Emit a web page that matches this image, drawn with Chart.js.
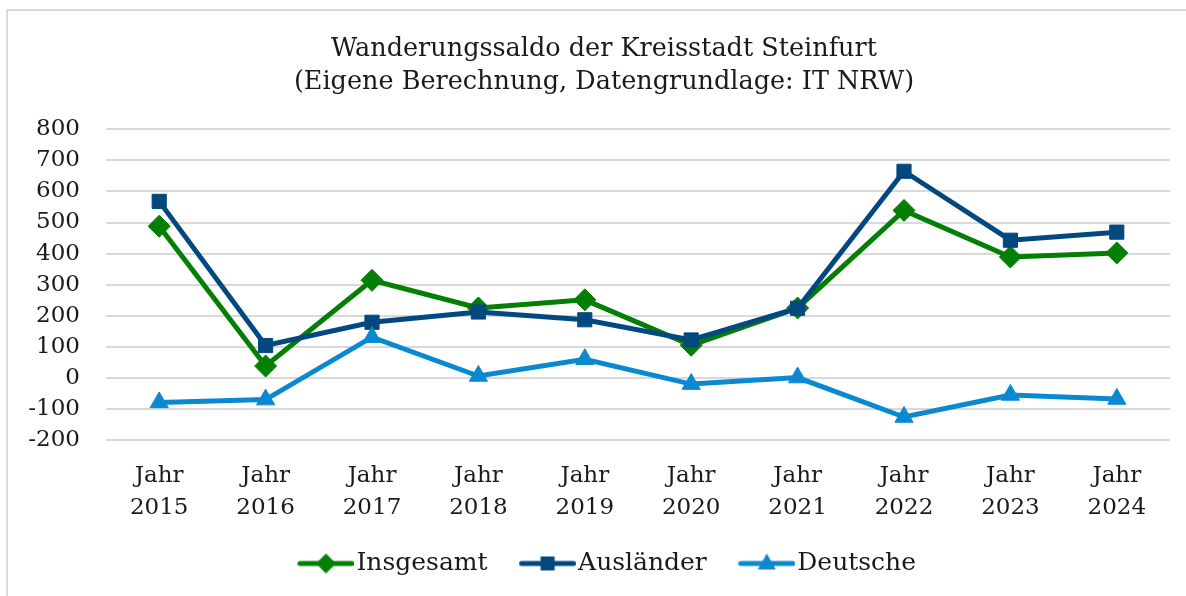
<!DOCTYPE html>
<html>
<head>
<meta charset="utf-8">
<script src="https://cdn.jsdelivr.net/npm/chart.js@4.4.1/dist/chart.umd.min.js"></script>
<style>
  body { margin: 0; background: #fff; overflow: hidden; }
  #frame {
    position: absolute; left: 6px; top: 9px; width: 1250px; height: 650px;
    border: 2px solid #d9d9d9; box-sizing: border-box;
  }
  #wrap { position: absolute; left: 0; top: 0; width: 1186px; height: 596px; }
</style>
</head>
<body>
<div id="frame"></div>
<div id="wrap"><canvas id="chart" width="1186" height="596"></canvas></div>
<script>
// data
const years = ["2015", "2016", "2017", "2018", "2019", "2020", "2021", "2022", "2023", "2024"];
const insgesamt = [488, 38, 314, 225, 251, 105, 225, 539, 389, 402];
const auslaender = [568, 104, 179, 212, 187, 122, 224, 665, 443, 469];
const deutsche = [-79, -70, 131, 6, 60, -20, 1, -126, -55, -68];
const yTicks = { min: -200, max: 800, step: 100 };

const FONT = "'DejaVu Serif', serif";
const GREEN = "#047f04";
const DARKBLUE = "#03497f";
const LIGHTBLUE = "#0a89d1";

// legend icon: short line with the marker in the middle,
// transparent room on the left gives the spacing between items
const ICON_PAD = 32;
function makeIcon(color, style) {
  const c = document.createElement("canvas");
  c.width = ICON_PAD + 57;
  c.height = 26;
  const ctx = c.getContext("2d");
  const cx = ICON_PAD + 28.5;
  const cy = 13;
  ctx.strokeStyle = color;
  ctx.fillStyle = color;
  ctx.lineWidth = 5;
  ctx.lineCap = "round";
  ctx.beginPath();
  ctx.moveTo(ICON_PAD + 2.5, cy);
  ctx.lineTo(ICON_PAD + 54.5, cy);
  ctx.stroke();
  ctx.beginPath();
  if (style === "diamond") {
    ctx.moveTo(cx, cy - 10); ctx.lineTo(cx + 10, cy); ctx.lineTo(cx, cy + 10); ctx.lineTo(cx - 10, cy);
  } else if (style === "square") {
    ctx.rect(cx - 7, cy - 7, 14, 14);
  } else {
    ctx.moveTo(cx, cy - 10); ctx.lineTo(cx + 9, cy + 6); ctx.lineTo(cx - 9, cy + 6);
  }
  ctx.closePath();
  ctx.fill();
  return c;
}
const icons = [
  makeIcon(GREEN, "diamond"),
  makeIcon(DARKBLUE, "square"),
  makeIcon(LIGHTBLUE, "triangle"),
];

// centre title and legend on the outer frame, not on the canvas
const shiftBlocks = {
  id: "shiftBlocks",
  afterLayout(chart) {
    chart.titleBlock.left = 38;
    chart.legend.left = 22;
  },
};

const ctx = document.getElementById("chart").getContext("2d");
const chart = new Chart(ctx, {
  type: "line",
  data: {
    labels: years.map((y) => ["Jahr", y]),
    datasets: [
      {
        label: "Insgesamt",
        data: insgesamt,
        borderColor: GREEN,
        backgroundColor: GREEN,
        borderWidth: 5,
        pointStyle: "rectRot",
        pointRadius: 11,
        pointBorderWidth: 1,
        order: 3,
      },
      {
        label: "Ausländer",
        data: auslaender,
        borderColor: DARKBLUE,
        backgroundColor: DARKBLUE,
        borderWidth: 5,
        pointStyle: "rect",
        pointRadius: 10,
        pointBorderWidth: 1,
        order: 2,
      },
      {
        label: "Deutsche",
        data: deutsche,
        borderColor: LIGHTBLUE,
        backgroundColor: LIGHTBLUE,
        borderWidth: 5,
        pointStyle: "triangle",
        pointRadius: 10.5,
        pointBorderWidth: 1,
        order: 1,
      },
    ],
  },
  plugins: [shiftBlocks],
  options: {
    responsive: false,
    animation: false,
    layout: { padding: { left: 0, right: 16, top: 0, bottom: 10 } },
    plugins: {
      tooltip: { enabled: false },
      title: {
        display: true,
        text: ["Wanderungssaldo der Kreisstadt Steinfurt", "(Eigene Berechnung, Datengrundlage: IT NRW)"],
        color: "#1a1a1a",
        font: { family: FONT, size: 25.5, weight: "normal", lineHeight: 1.3 },
        padding: { top: 33, bottom: 30 },
      },
      legend: {
        position: "bottom",
        labels: {
          usePointStyle: true,
          pointStyleWidth: ICON_PAD + 36,
          boxHeight: 24,
          padding: 10,
          color: "#1a1a1a",
          font: { family: FONT, size: 25 },
          sort: (a, b) => a.datasetIndex - b.datasetIndex,
          generateLabels: (chart) => {
            const items = Chart.defaults.plugins.legend.labels.generateLabels(chart);
            items.forEach((it) => { it.pointStyle = icons[it.datasetIndex]; });
            return items;
          },
        },
      },
    },
    scales: {
      x: {
        offset: true,
        grid: { display: false, drawTicks: false },
        border: { display: false },
        ticks: {
          color: "#1a1a1a",
          font: { family: FONT, size: 23, lineHeight: 1.4 },
          padding: 20,
          maxRotation: 0,
          autoSkip: false,
        },
        afterFit: (scale) => { scale.height = 101; },
      },
      y: {
        min: yTicks.min,
        max: yTicks.max,
        grid: { color: "#d9d9d9", lineWidth: 2, drawTicks: false },
        border: { display: false },
        ticks: {
          stepSize: yTicks.step,
          autoSkip: false,
          color: "#1a1a1a",
          font: { family: FONT, size: 23 },
          padding: 26,
        },
        afterFit: (scale) => { scale.width = 106; },
      },
    },
  },
});
</script>
</body>
</html>
